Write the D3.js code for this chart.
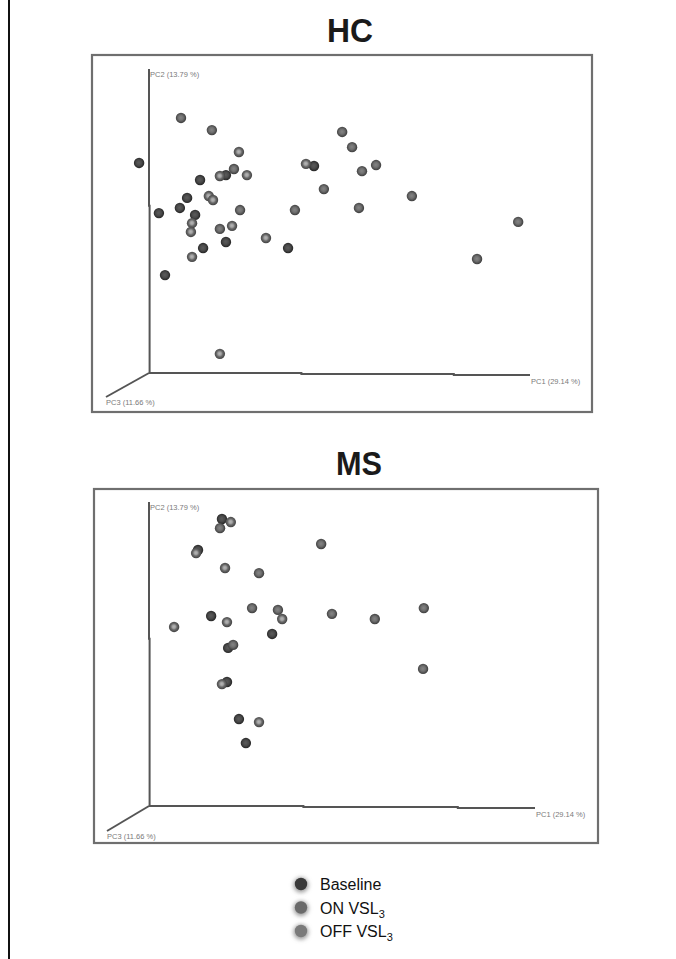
<!DOCTYPE html>
<html>
<head>
<meta charset="utf-8">
<script src="https://cdn.jsdelivr.net/npm/d3@7"></script>
<style>
  body{margin:0;background:#fff;}
  svg{display:block;font-family:"Liberation Sans",Arial,sans-serif;}
</style>
</head>
<body>
<svg id="chart" width="676" height="959"></svg>
<script>
// group names
const groups = ['Baseline','ON VSL','OFF VSL'];
const axisLabels = {pc1:'PC1 (29.14 %)', pc2:'PC2 (13.79 %)', pc3:'PC3 (11.66 %)'};

// HC, [PC1, PC2] projected onto the 0..100 axis frame
const hcBaseline = [[-2.6,69.1],[20.2,65.1],[13.4,63.5],[10.0,57.6],[8.1,54.3],[2.6,52.6],[12.1,52.0],
  [43.3,68.1],[36.5,41.1],[14.2,41.1],[20.2,43.1],[4.2,32.2]];
const hcOn = [[8.4,83.9],[16.5,79.9],[22.3,67.1],[23.9,53.6],[38.3,53.6],[50.7,79.3],[53.3,74.3],
  [55.9,66.4],[59.6,68.4],[45.9,60.5],[55.1,54.3],[69.0,58.2],[96.9,49.7],[86.1,37.5],[18.6,47.4]];
const hcOff = [[23.6,72.7],[18.6,64.8],[25.7,65.1],[15.7,58.2],[16.8,56.9],[11.3,49.3],[41.2,68.8],
  [11.0,46.4],[21.8,48.4],[30.7,44.4],[11.3,38.2],[18.6,6.3]];

// MS
const msBaseline = [[18.9,94.4],[12.7,84.2],[16.1,62.5],[31.9,56.6],[20.5,52.0],[20.2,40.8],[23.3,28.6],[25.1,20.7]];
const msOn = [[18.4,91.4],[28.5,76.6],[44.6,86.2],[26.7,65.1],[33.4,64.5],[47.4,63.2],[58.5,61.5],
  [21.8,53.0],[71.2,65.1],[71.0,45.1]];
const msOff = [[21.2,93.4],[12.2,83.2],[19.7,78.3],[6.5,58.9],[20.2,60.5],[34.5,61.5],[18.9,40.1],[28.5,27.6]];

const svg = d3.select('#chart');
const defs = svg.append('defs');

// sphere-ish shading per group
const shades = [
  {id:'gBase', stops:[['0%','#5c5c5c'],['50%','#4a4a4a'],['100%','#1f1f1f']]},
  {id:'gOn',   stops:[['0%','#858585'],['45%','#707070'],['100%','#363636']]},
  {id:'gOff',  stops:[['0%','#b8b8b8'],['30%','#a0a0a0'],['55%','#6a6a6a'],['100%','#3c3c3c']]}
];
shades.forEach(s=>{
  const rg = defs.append('radialGradient').attr('id',s.id).attr('cx','48%').attr('cy','48%').attr('r','55%');
  s.stops.forEach(st=>rg.append('stop').attr('offset',st[0]).attr('stop-color',st[1]));
});
defs.append('filter').attr('id','soft').attr('x','-50%').attr('y','-50%').attr('width','200%').attr('height','200%')
  .append('feGaussianBlur').attr('stdDeviation',0.5);
defs.append('filter').attr('id','glow').attr('x','-80%').attr('y','-80%').attr('width','260%').attr('height','260%')
  .append('feGaussianBlur').attr('stdDeviation',2.2);

// left border
svg.append('line').attr('x1',9).attr('x2',9).attr('y1',0).attr('y2',959)
  .attr('stroke','#111').attr('stroke-width',2);

function drawPanel(cfg, series){
  const g = svg.append('g');
  g.append('text').attr('x',cfg.titleX).attr('y',cfg.titleY).attr('text-anchor','middle')
    .attr('font-size',33).attr('font-weight','bold').attr('fill','#1a1a1a')
    .attr('textLength',46).attr('lengthAdjust','spacingAndGlyphs')
    .text(cfg.title);
  g.append('rect').attr('x',cfg.box[0]).attr('y',cfg.box[1])
    .attr('width',cfg.box[2]-cfg.box[0]).attr('height',cfg.box[3]-cfg.box[1])
    .attr('fill','#fff').attr('stroke','#6f6f6f').attr('stroke-width',2.2);

  const x = d3.scaleLinear().domain([0,100]).range([cfg.ox, cfg.xEnd]);
  const y = d3.scaleLinear().domain([0,100]).range([cfg.oy, cfg.yTop]);

  const axis = g.append('g').attr('stroke','#555').attr('stroke-width',2).attr('fill','none');
  axis.append('path').attr('d',d3.line()([[x(0),y(100)],[x(0),y(55)],[x(0)+0.6,y(55)],[x(0)+0.6,y(0)]]));
  axis.append('path').attr('d',d3.line()([[x(0),y(0)],[x(40),y(0)],[x(40),y(0)+1],[x(80),y(0)+1],[x(80),y(0)+2],[x(100),y(0)+2]]));
  axis.append('line').attr('x1',x(0)).attr('y1',y(0)).attr('x2',cfg.pc3[0]).attr('y2',cfg.pc3[1]);

  const lab = g.append('g').attr('font-size',7.5).attr('fill','#7a7a7a');
  lab.append('text').attr('x',x(0)+1).attr('y',y(100)+8).text(axisLabels.pc2);
  lab.append('text').attr('x',x(100)+1).attr('y',y(0)+11).text(axisLabels.pc1);
  lab.append('text').attr('x',cfg.pc3[0]).attr('y',cfg.pc3[1]+8).text(axisLabels.pc3);

  const fills = ['url(#gBase)','url(#gOn)','url(#gOff)'];
  series.forEach((pts,i)=>{
    g.append('g').selectAll('circle').data(pts).enter().append('circle')
      .attr('cx',d=>x(d[0])).attr('cy',d=>y(d[1])).attr('r',5.2)
      .attr('fill',fills[i]).attr('filter','url(#soft)');
  });
}

drawPanel({title:'HC', titleX:350, titleY:42, box:[92,55,592,412],
  ox:149, oy:373, xEnd:530, yTop:69, pc3:[106,397]}, [hcBaseline, hcOn, hcOff]);
drawPanel({title:'MS', titleX:359, titleY:475, box:[94,489,598,843],
  ox:149, oy:806, xEnd:535, yTop:502, pc3:[107,831]}, [msBaseline, msOn, msOff]);

// legend
const legendColors = ['#3a3a3a','#6a6a6a','#7a7a7a'];
const ly = d3.scalePoint().domain(groups).range([884,931]);
const leg = svg.append('g');
leg.selectAll('circle.glow').data(groups).enter().append('circle')
  .attr('cx',301).attr('cy',d=>ly(d)+1).attr('r',7.5).attr('fill','#9a9a9a').attr('filter','url(#glow)');
leg.selectAll('circle.dot').data(groups).enter().append('circle')
  .attr('cx',301).attr('cy',d=>ly(d)).attr('r',6.2).attr('fill',(d,i)=>legendColors[i]);
const lt = leg.selectAll('text').data(groups).enter().append('text')
  .attr('x',320).attr('y',d=>ly(d)+6).attr('font-size',16).attr('fill','#111');
lt.append('tspan').text(d=>d);
lt.filter((d,i)=>i>0).append('tspan').attr('dy',4).attr('font-size',11).text('3');
</script>
</body>
</html>
